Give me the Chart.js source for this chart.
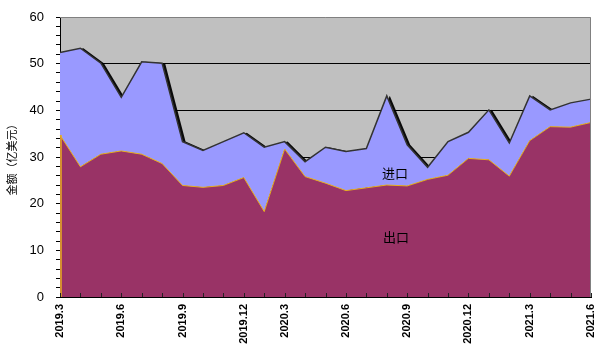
<!DOCTYPE html>
<html>
<head>
<meta charset="utf-8">
<script src="https://cdn.jsdelivr.net/npm/chart.js@4/dist/chart.umd.min.js"></script>
<style>
html,body{margin:0;padding:0;background:#fff;}
#wrap{width:600px;height:356px;position:relative;}
</style>
</head>
<body>
<div id="wrap"><canvas id="c" width="600" height="356"></canvas></div>
<script>
const months = ['2019.3','2019.4','2019.5','2019.6','2019.7','2019.8','2019.9','2019.10','2019.11','2019.12',
  '2020.1-2','2020.3','2020.4','2020.5','2020.6','2020.7','2020.8','2020.9','2020.10','2020.11','2020.12',
  '2021.1','2021.2','2021.3','2021.4','2021.5','2021.6'];
const exportsVals = [34.7,27.9,30.6,31.3,30.6,28.6,23.9,23.5,23.9,25.6,
  18.3,31.7,25.8,24.4,22.8,23.4,24.0,23.8,25.2,26.1,29.7,
  29.4,25.9,33.5,36.5,36.4,37.4];
const importsVals = [17.7,25.4,19.5,11.5,19.8,21.5,9.4,7.9,9.4,9.6,
  13.8,1.6,3.2,7.7,8.4,8.4,19.1,8.8,2.6,7.2,5.6,
  10.7,7.1,9.6,3.6,5.2,5.0];
const shownMonths = ['3','6','9','12'];
const seriesNames = ['出口','进口'];
const yTitle = '金额（亿美元）';

const plotBg = {
  id:'plotBg',
  beforeDraw(chart){
    const {ctx, chartArea:a} = chart;
    ctx.save(); ctx.fillStyle='#C0C0C0';
    ctx.fillRect(a.left,a.top,a.right-a.left,a.bottom-a.top);
    ctx.restore();
  },
  beforeDatasetsDraw(chart){
    const c=chart.ctx;
    c.shadowColor='rgba(0,0,0,0.95)'; c.shadowOffsetX=3; c.shadowOffsetY=0; c.shadowBlur=0;
  },
  beforeDatasetDraw(chart,args){
    if(args.index===1){const c=chart.ctx; c.shadowColor='rgba(0,0,0,0)'; c.shadowOffsetX=0;}
  },
  afterDatasetsDraw(chart){
    const {ctx, chartArea:a, scales:{x,y}} = chart;
    ctx.save();
    ctx.shadowColor='rgba(0,0,0,0)'; ctx.shadowOffsetX=0;
    ctx.strokeStyle='#E8B020'; ctx.lineWidth=1.5;
    ctx.beginPath(); ctx.moveTo(x.getPixelForValue(0)+1, y.getPixelForValue(0));
    ctx.lineTo(x.getPixelForValue(0)+1, y.getPixelForValue(exportsVals[0])); ctx.stroke();
    ctx.strokeStyle='#222'; ctx.lineWidth=1;
    months.forEach((m,i)=>{
      const px=Math.round(x.getPixelForValue(i))+0.5;
      ctx.beginPath(); ctx.moveTo(px,a.bottom); ctx.lineTo(px,a.bottom-4); ctx.stroke();
    });
    ctx.fillStyle='#000'; ctx.font='13px "Noto Sans CJK SC"';
    ctx.textAlign='center'; ctx.textBaseline='middle';
    ctx.fillText(seriesNames[1], x.getPixelForValue(16.4), y.getPixelForValue(26.5));
    ctx.fillText(seriesNames[0], x.getPixelForValue(16.45), y.getPixelForValue(12.9));
    ctx.restore();
  },
  afterDraw(chart){
    const {ctx, chartArea:a} = chart;
    ctx.save(); ctx.strokeStyle='#808080'; ctx.lineWidth=1;
    ctx.beginPath(); ctx.moveTo(a.left,a.top+0.5); ctx.lineTo(a.right-0.5,a.top+0.5); ctx.lineTo(a.right-0.5,a.bottom); ctx.stroke();
    ctx.restore();
  }
};

new Chart(document.getElementById('c'), {
  type:'line',
  data:{
    labels: months,
    datasets:[
      {label:seriesNames[0], data:exportsVals, fill:'origin', backgroundColor:'#993366',
       borderColor:'#E8B020', borderWidth:1, pointRadius:0, tension:0},
      {label:seriesNames[1], data:importsVals, fill:'-1', backgroundColor:'#9999FF',
       borderColor:'#333333', borderWidth:1.5, pointRadius:0, tension:0}
    ]
  },
  options:{
    responsive:false, animation:false,
    layout:{padding:{top:17,right:9,left:0,bottom:0}},
    plugins:{legend:{display:false}, tooltip:{enabled:false}},
    scales:{
      x:{
        offset:false,
        grid:{display:true, drawOnChartArea:false, drawTicks:false},
        border:{color:'#000', width:1},
        ticks:{autoSkip:false, maxRotation:90, minRotation:90, padding:7, color:'#000',
          font:{family:'"Liberation Sans", Arial, sans-serif', size:11, weight:'bold'},
          callback:function(v,i){const m=months[i].split('.')[1]; return shownMonths.includes(m)?months[i]:'';}},
        afterFit(s){s.height=59; s.paddingRight=0; s.paddingLeft=0;}
      },
      y:{
        stacked:true, min:0, max:60,
        grid:{color:(c)=> (c.tick && c.tick.value%10===0 && c.tick.value>0 && c.tick.value<60)?'#000':'rgba(0,0,0,0)',
              tickColor:'#000', tickLength:4, lineWidth:1},
        border:{color:'#000', width:1},
        ticks:{stepSize:2, autoSkip:false, padding:12, color:'#000',
          font:{family:'"Liberation Sans", Arial, sans-serif', size:13},
          callback:(v)=> v%10===0 ? v : ''},
        title:{display:true, text:yTitle, color:'#000', padding:{top:5,bottom:0},
          font:{family:'"Noto Sans CJK SC", sans-serif', size:11}},
        afterFit(s){s.width=60; s.paddingTop=0; s.paddingBottom=0;}
      }
    }
  },
  plugins:[plotBg]
});
</script>
</body>
</html>
